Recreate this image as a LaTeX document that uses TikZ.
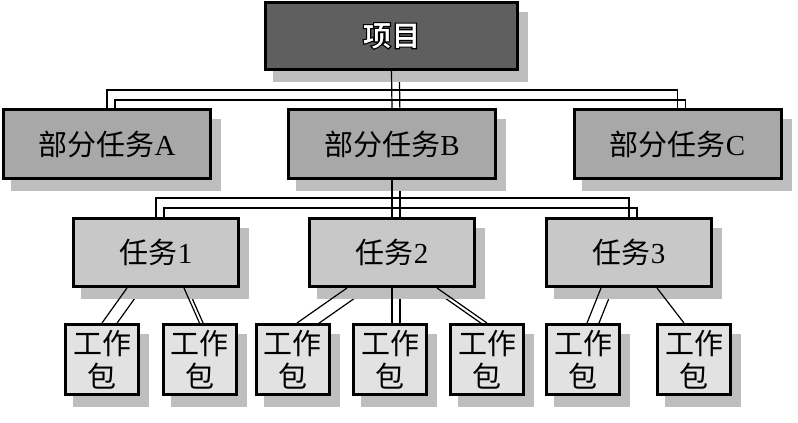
\documentclass[tikz,border=0pt]{standalone}
\usepackage{fontspec}
\setmainfont{Liberation Serif}
\newfontfamily\cjk{Noto Sans CJK SC}
\usetikzlibrary{positioning,backgrounds}
\pgfdeclarelayer{shade}
\pgfdeclarelayer{wires}
\pgfsetlayers{shade,wires,main}
\definecolor{topgray}{HTML}{5F5F5F}
\definecolor{partgray}{HTML}{A8A8A8}
\definecolor{taskgray}{HTML}{C8C8C8}
\definecolor{wpgray}{HTML}{E2E2E2}
\definecolor{shadowgray}{HTML}{BEBEBE}
% white letters with a black rim
\newcommand{\rimtext}[1]{\special{pdf:literal direct 2 Tr 1.1 w 0 G}#1\special{pdf:literal direct 0 Tr}}

\begin{document}
\begin{tikzpicture}[
    x=1pt, y=-1pt,
    box/.style={rectangle, draw=black, line width=3pt, inner sep=0pt, align=center,
        font=\fontsize{29}{33}\selectfont},
    project/.style={box, fill=topgray, text=white, minimum width=252pt, minimum height=67pt},
    part/.style={box, fill=partgray, minimum width=207pt, minimum height=69pt},
    task/.style={box, fill=taskgray, minimum width=165pt, minimum height=68pt},
    package/.style={box, fill=wpgray, minimum width=73pt, minimum height=70pt},
    link/.style={line width=1.2pt},
    shadowlink/.style={link, transform canvas={shift={(8,10)}}}
]
\useasboundingbox (0,0) rectangle (798,423);

% Project
\node[project] (top) at (391.5,36) {\cjk\bfseries\rimtext{项目}};

% Sub tasks
\node[part] (partA) at (107,144) {{\cjk 部分任务}A};
\node[part] (partB) at (392,144) {{\cjk 部分任务}B};
\node[part] (partC) at (677.5,144) {{\cjk 部分任务}C};

% Tasks
\node[task] (task1) at (156,252.5) {{\cjk 任务}1};
\node[task] (task2) at (392,252.5) {{\cjk 任务}2};
\node[task] (task3) at (629,252.5) {{\cjk 任务}3};

% Work packages
\foreach \i/\x in {1/102,2/199.5,3/292.5,4/390,5/487,6/583,7/694}
    \node[package] (wp\i) at (\x,359.5) {\cjk 工作\\\cjk 包};

% Bus points
\coordinate (busA) at (392,90);
\coordinate (busB) at (392,198);

% Connectors
\begin{pgfonlayer}{wires}
\draw[link] (top.south) -- (partB.north);
\draw[link] (partA.north) |- (busA) -| (partC.north);
\draw[link] (partB.south) -- (task2.north);
\draw[link] (task1.north) |- (busB) -| (task3.north);
\draw[link] ([xshift=-29pt]task1.south) -- (wp1.north);
\draw[link] ([xshift=28pt]task1.south) -- (wp2.north);
\draw[link] ([xshift=-45pt]task2.south) -- ([xshift=4.5pt]wp3.north);
\draw[link] (task2.south) -- (task2.south |- wp4.north);
\draw[link] ([xshift=45pt]task2.south) -- (wp5.north);
\draw[link] ([xshift=-28pt]task3.south) -- ([xshift=4pt]wp6.north);
\draw[link] ([xshift=28pt]task3.south) -- ([xshift=-10pt]wp7.north);
\end{pgfonlayer}

% Shadows
\begin{pgfonlayer}{shade}
\draw[shadowlink] (top.south) -- (partB.north);
\draw[shadowlink] (partA.north) |- (busA) -| (partC.north);
\draw[shadowlink] (partB.south) -- (task2.north);
\draw[shadowlink] (task1.north) |- (busB) -| (task3.north);
\draw[shadowlink] ([xshift=-29pt]task1.south) -- (wp1.north);
\draw[shadowlink] ([xshift=28pt]task1.south) -- (wp2.north);
\draw[shadowlink] ([xshift=-45pt]task2.south) -- ([xshift=4.5pt]wp3.north);
\draw[shadowlink] (task2.south) -- (task2.south |- wp4.north);
\draw[shadowlink] ([xshift=45pt]task2.south) -- (wp5.north);
\draw[shadowlink] ([xshift=-28pt]task3.south) -- ([xshift=4pt]wp6.north);
\foreach \n in {top,partA,partB,partC,task1,task2,task3,wp1,wp2,wp3,wp4,wp5,wp6,wp7}
    \fill[shadowgray] ([shift={(9,11)}]\n.north west) rectangle ([shift={(9,11)}]\n.south east);
\end{pgfonlayer}

\end{tikzpicture}
\end{document}
